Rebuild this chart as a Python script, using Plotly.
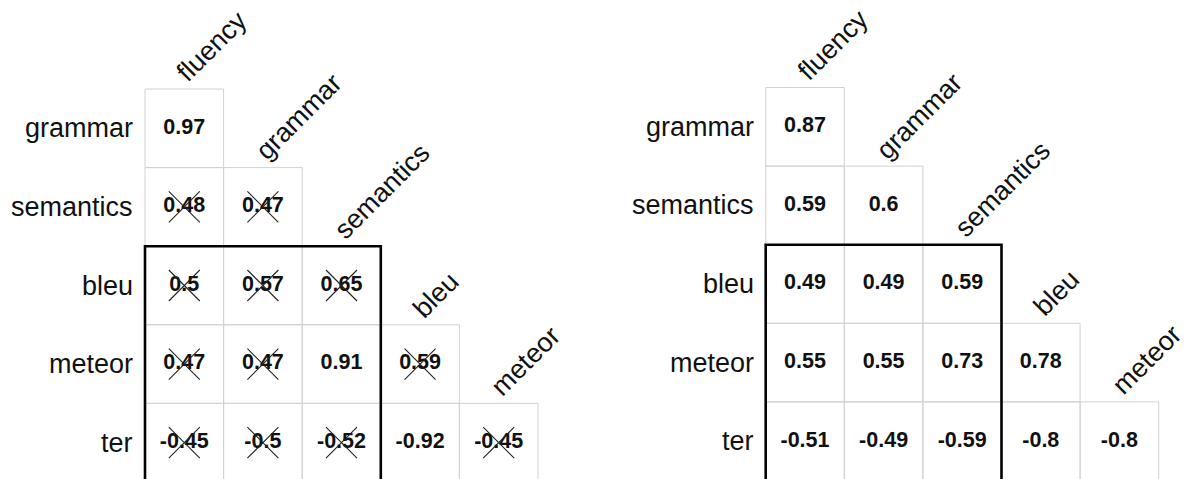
import plotly.graph_objects as go

rows = ["grammar", "semantics", "bleu", "meteor", "ter"]
cols = ["fluency", "grammar", "semantics", "bleu", "meteor"]

left_vals = [
    [0.97],
    [0.48, 0.47],
    [0.5, 0.57, 0.65],
    [0.47, 0.47, 0.91, 0.59],
    [-0.45, -0.5, -0.52, -0.92, -0.45],
]
left_crossed = [
    [False],
    [True, True],
    [True, True, True],
    [True, True, False, True],
    [True, True, True, False, True],
]
right_vals = [
    [0.87],
    [0.59, 0.6],
    [0.49, 0.49, 0.59],
    [0.55, 0.55, 0.73, 0.78],
    [-0.51, -0.49, -0.59, -0.8, -0.8],
]
right_crossed = [[False] * len(r) for r in right_vals]

highlight_rows = ["bleu", "meteor", "ter"]
highlight_cols = ["fluency", "grammar", "semantics"]

FONT = "Liberation Sans, Arial, Helvetica, sans-serif"
W, H = 1184, 479
CELL = 78.6

fig = go.Figure()
shapes = []
annotations = []


def panel(vals, crossed, xa, ya, x0px, y0px, dom):
    # axis ranges so that one data unit = CELL pixels
    px0, px1 = dom[0] * W, dom[1] * W
    xr = [(px0 - x0px) / CELL, (px1 - x0px) / CELL]
    yr = [(H - y0px) / CELL, (0 - y0px) / CELL]
    axx = dict(domain=dom, range=xr, visible=False, fixedrange=True)
    axy = dict(domain=[0, 1], range=yr, visible=False, fixedrange=True)
    xref = "x" if xa == "xaxis" else "x2"
    yref = "y" if ya == "yaxis" else "y2"
    fig.layout[xa] = axx
    fig.layout[ya] = axy
    if xa != "xaxis":
        fig.layout[ya]["anchor"] = xref
        fig.layout[xa]["anchor"] = yref

    tx, ty, tt, cx, cy = [], [], [], [], []
    for r, rowvals in enumerate(vals):
        for c, v in enumerate(rowvals):
            shapes.append(dict(type="rect", xref=xref, yref=yref,
                               x0=c, x1=c + 1, y0=r, y1=r + 1,
                               line=dict(color="#d2d2d2", width=1), layer="below"))
            tx.append(c + 0.5)
            ty.append(r + 0.5)
            tt.append(f"<b>{v:g}</b>")
            if crossed[r][c]:
                cx.append(c + 0.5)
                cy.append(r + 0.5)
    fig.add_trace(go.Scatter(x=tx, y=ty, text=tt, mode="text", xaxis=xref, yaxis=yref,
                             textposition="middle center",
                             textfont=dict(family=FONT, size=21.5, color="#111"),
                             showlegend=False, hoverinfo="skip"))
    if cx:
        fig.add_trace(go.Scatter(x=cx, y=cy, mode="markers", xaxis=xref, yaxis=yref,
                                 marker=dict(symbol="x-thin-open", size=31, color="#222",
                                             line=dict(color="#222", width=1.1)),
                                 showlegend=False, hoverinfo="skip"))
    # highlight box
    hr = [rows.index(n) for n in highlight_rows]
    hc = [cols.index(n) for n in highlight_cols]
    shapes.append(dict(type="rect", xref=xref, yref=yref,
                       x0=min(hc), x1=max(hc) + 1, y0=min(hr), y1=max(hr) + 1.2,
                       line=dict(color="black", width=2.6)))
    # row labels
    for r, name in enumerate(rows):
        annotations.append(dict(x=0, y=r + 0.5, xref=xref, yref=yref, text=name,
                                showarrow=False, xanchor="right", yanchor="middle",
                                xshift=-10, font=dict(family=FONT, size=27, color="#111")))
    # column labels, on the diagonal
    for c, name in enumerate(cols):
        annotations.append(dict(x=c + 0.298, y=c + 0.015, xref=xref, yref=yref, text=name,
                                showarrow=False, textangle=-45,
                                xanchor="left", yanchor="bottom",
                                font=dict(family=FONT, size=27, color="#111")))


panel(left_vals, left_crossed, "xaxis", "yaxis", 145.0, 89.0, [0.0, 0.5])
panel(right_vals, right_crossed, "xaxis2", "yaxis2", 765.7, 87.5, [0.5, 1.0])

fig.update_layout(
    width=W, height=H,
    margin=dict(l=0, r=0, t=0, b=0),
    paper_bgcolor="white", plot_bgcolor="white",
    shapes=shapes, annotations=annotations,
    showlegend=False,
)
fig.write_html("out.html",
               config={"displayModeBar": False, "staticPlot": True},
               post_script="document.body.style.margin='0';document.body.style.overflow='hidden';")
